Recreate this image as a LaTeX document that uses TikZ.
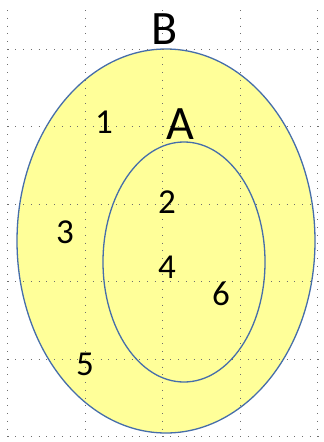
\documentclass[tikz,border=0pt]{standalone}
\usepackage{fontspec}
\setmainfont{Carlito}
\definecolor{setfill} {RGB}{255,255,153}
\definecolor{setline} {RGB}{70,110,170}
\definecolor{gridgray}{RGB}{110,110,110}
\usepackage{tikz}
\tikzset{
  setarea/.style={fill=setfill,draw=setline,line width=1.3pt},
  gridline/.style={gridgray,line width=0.9pt,dash pattern=on 0.9pt off 6.85pt},
  setname/.style={font=\fontsize{48}{48}\selectfont,inner sep=0pt},
  elem/.style={font=\fontsize{35}{35}\selectfont,inner sep=0pt},
}

\begin{document}
\begin{tikzpicture}[x=1pt,y=-1pt]
    \useasboundingbox (0,0) rectangle (324,442);
    \fill[white] (0,0) rectangle (324,442);
    % sets
    \draw[setarea] (166,241) ellipse [x radius=149, y radius=192];
    \draw[setarea] (184,262) ellipse [x radius=81, y radius=120];
    % dotted grid
    \foreach \x in {7.5,85,162.5,240,317.5}
      \draw[gridline] (\x,10) -- (\x,437);
    \foreach \y in {49,126.5,204,281.5,359,436.5}
      \draw[gridline] (7.5,\y) -- (324,\y);
    % labels
    \node[setname] (setB) at (165,29) {B};
    \node[setname] (setA) at (180,124) {A};
    \node[elem] (one)   at (104,122) {1};
    \node[elem] (two)   at (167,202) {2};
    \node[elem] (three) at (65,232) {3};
    \node[elem] (four)  at (167,267) {4};
    \node[elem] (five)  at (85,364) {5};
    \node[elem] (six)   at (221,294) {6};
  \end{tikzpicture}
\end{document}
